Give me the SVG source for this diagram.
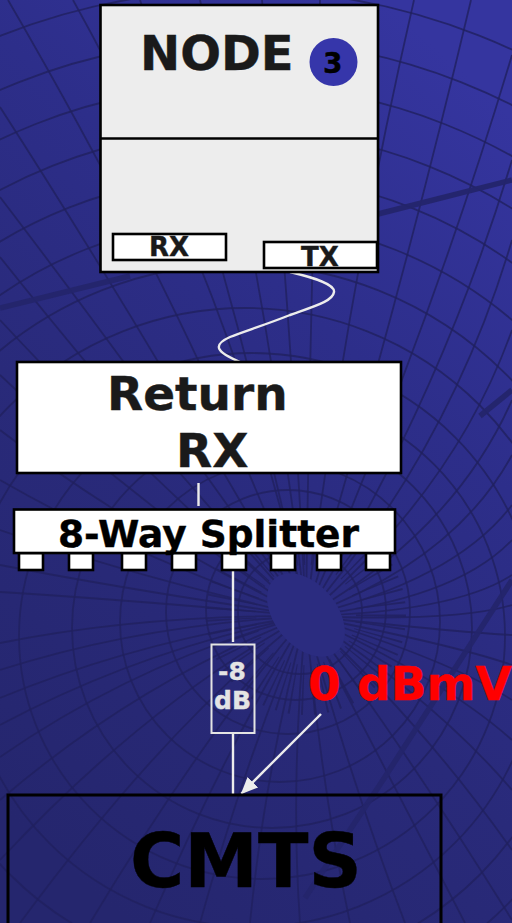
<svg xmlns="http://www.w3.org/2000/svg" width="512" height="923" viewBox="0 0 512 923">
<style>
text{font-family:"DejaVu Sans",sans-serif;font-weight:700;stroke-width:.4;paint-order:stroke}
.bx{stroke:#000;stroke-width:2.600}
.wh{fill:#fff}
.wire{fill:none;stroke:#ececec;stroke-width:2.400}
.m{fill:none;stroke:#20215f;stroke-width:1.800;stroke-opacity:.8}
.band{fill:none;stroke:#24256c;stroke-width:5.500;stroke-opacity:.95}
.k{fill:#1a1a1a;stroke:#1a1a1a}
.b{fill:#000;stroke:#000}
.g{fill:#e4e4e4;stroke:#e4e4e4}
</style>
<defs>
<linearGradient id="bg" x1="0.75" y1="0" x2="0.25" y2="1"><stop offset="0" stop-color="#35359f"/><stop offset="0.33" stop-color="#2d2e8a"/><stop offset="0.62" stop-color="#292a7a"/><stop offset="1" stop-color="#25266e"/></linearGradient>
<marker id="ah" markerUnits="userSpaceOnUse" markerWidth="20" markerHeight="20" refX="16" refY="9" orient="auto"><path d="M0 1.500L17 9L0 16.500Z" fill="#ececec"/></marker>
</defs>
<g id="background">
<rect width="512" height="923" fill="url(#bg)"/>
<g class="m">
<circle cx="300" cy="612" r="62"/><circle cx="296" cy="610" r="90"/><circle cx="288" cy="612" r="122"/><circle cx="280" cy="622" r="160"/><circle cx="272" cy="628" r="200"/><circle cx="262" cy="636" r="243"/><circle cx="252" cy="640" r="287"/><circle cx="245" cy="640" r="332"/><circle cx="240" cy="640" r="376"/><circle cx="240" cy="640" r="420"/><circle cx="240" cy="640" r="465"/><circle cx="240" cy="640" r="510"/><circle cx="240" cy="640" r="555"/><circle cx="240" cy="640" r="600"/><circle cx="240" cy="640" r="650"/><circle cx="240" cy="640" r="700"/>
<circle cx="306" cy="615" r="75" stroke-width="50" stroke-dasharray="1.500 8.500" fill="none"/>
<path d="M306 616Q240 300 73 0M306 616Q200 330 8 0M306 616Q150 340 0 107M306 616Q140 380 0 197M306 616Q130 420 0 257M306 616Q130 460 0 320M306 616Q130 500 0 375M306 616Q130 530 0 430M306 616Q130 555 0 480M306 616Q130 575 0 530M306 616Q130 590 0 565M306 616Q130 600 0 592M306 616Q140 615 0 643M306 616Q140 625 0 670M306 616Q140 640 0 698M306 616Q140 650 0 725M306 616Q140 660 0 757M306 616Q140 680 0 800M306 616Q150 700 0 860M306 616Q170 720 20 923M306 616Q200 740 90 923M306 616Q225 750 150 923M306 616Q245 760 200 923M306 616Q265 770 250 923M306 616Q290 780 300 923M306 616Q320 780 350 923M306 616Q350 780 405 923M306 616Q380 760 465 923"/>
<path d="M306 616Q240 300 140 0M306 616Q270 300 200 0M306 616Q290 300 262 0M306 616Q310 300 320 0M306 616Q345 300 414 0M306 616Q400 300 471 0M306 616Q430 330 512 55M306 616Q440 400 512 160M306 616Q450 450 512 240M306 616Q455 490 512 330M306 616Q455 530 512 400M306 616Q455 560 512 455M306 616Q455 580 512 505M306 616Q455 600 512 540M306 616Q455 612 512 575M306 616Q455 622 512 605M306 616Q455 632 512 635M306 616Q455 645 512 665M306 616Q450 660 512 700M306 616Q445 680 512 740M306 616Q435 700 512 790M306 616Q420 720 512 850M306 616Q400 740 512 920"/>
</g>
<ellipse cx="306" cy="615" rx="31" ry="48" transform="rotate(-40 306 615)" fill="#2b2c80"/>
<path class="band" d="M0 308L130 276M378 214L512 180M480 416L512 390M512 580L383 780L305 898"/>
</g>
<g id="connectors">
<path class="wire" d="M290 272C315 278 335 284 334 292C333 301 315 306 290 315C265 325 245 331 230 337C212 345 216 352 240 362"/>
<path class="wire" d="M198.500 483V506M233 570V642M233 733V795"/>
<path class="wire" marker-end="url(#ah)" d="M321 714L241.500 793.500"/>
</g>
<g id="node">
<rect class="bx" x="100.500" y="5" width="277.500" height="267" fill="#ededed"/>
<path class="bx" d="M100.500 138.500H378"/>
<text class="k" x="140" y="70" font-size="48">NODE</text>
<circle cx="333.500" cy="62" r="24" fill="#3636aa"/>
<text class="b" x="323" y="73" font-size="28">3</text>
</g>
<g id="node-rx"><rect class="bx wh" x="113" y="234" width="113" height="26"/><text class="k" x="149" y="256" font-size="26">RX</text></g>
<g id="node-tx"><rect class="bx wh" x="264" y="242" width="113" height="26"/><text class="k" x="301" y="266" font-size="26">TX</text></g>
<g id="return-rx"><rect class="bx wh" x="17" y="362" width="384" height="111"/><text class="k" x="107" y="410" font-size="47">Return</text><text class="k" x="176" y="467" font-size="47">RX</text></g>
<g id="splitter">
<rect class="bx wh" x="19" y="553" width="24" height="17"/><rect class="bx wh" x="69" y="553" width="24" height="17"/><rect class="bx wh" x="122" y="553" width="24" height="17"/><rect class="bx wh" x="172" y="553" width="24" height="17"/><rect class="bx wh" x="222" y="553" width="24" height="17"/><rect class="bx wh" x="271" y="553" width="24" height="17"/><rect class="bx wh" x="317" y="553" width="24" height="17"/><rect class="bx wh" x="366" y="553" width="24" height="17"/>
<rect class="bx wh" x="14" y="509.500" width="381" height="43.500"/>
<text class="b" x="58" y="547" font-size="37.500">8-Way Splitter</text>
</g>
<g id="attenuator"><rect x="211.500" y="644.500" width="43" height="88.500" fill="none" stroke="#e4e4e4" stroke-width="2"/><text class="g" x="232" y="680" font-size="25" text-anchor="middle">-8</text><text class="g" x="232.500" y="709" font-size="25" text-anchor="middle">dB</text></g>
<g id="level"><text x="308" y="700" font-size="47" fill="#f00" stroke="#f00">0 dBmV</text></g>
<g id="cmts"><rect x="8" y="795" width="433" height="140" fill="none" stroke="#000" stroke-width="3"/><text class="b" x="130" y="887" font-size="74">CMTS</text></g>
</svg>
